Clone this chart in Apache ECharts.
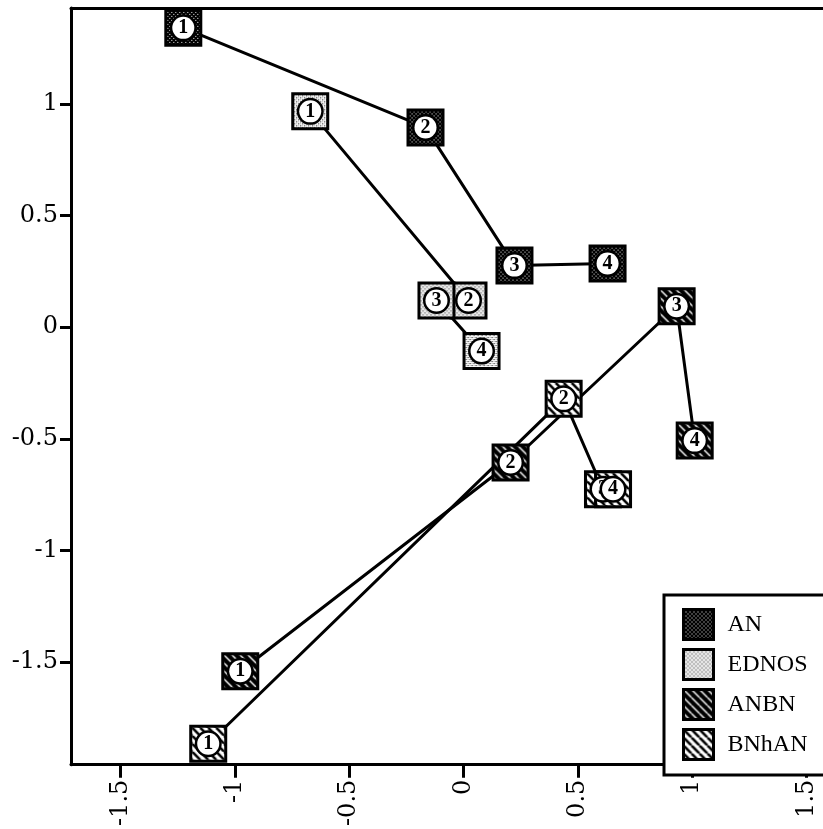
<!DOCTYPE html>
<html>
<head>
<meta charset="utf-8">
<script src="https://cdn.jsdelivr.net/npm/echarts@6/dist/echarts.min.js"></script>
<style>
html,body{margin:0;padding:0;background:#fff;}
#chart{width:823px;height:829px;}
</style>
</head>
<body>
<div id="chart"></div>
<script>
// ---- data ----
const groupNames = ['AN', 'EDNOS', 'ANBN', 'BNhAN'];
const pointLabels = ['1', '2', '3', '4'];
const anX    = [-1.225, -0.166, 0.223, 0.630];
const anY    = [ 1.341,  0.895, 0.276, 0.285];
const ednosX = [-0.670,  0.022, -0.118, 0.079];
const ednosY = [ 0.967,  0.120,  0.120, -0.107];
const anbnX  = [-0.976,  0.206,  0.932, 1.011];
const anbnY  = [-1.541, -0.606,  0.094, -0.508];
const bnhanX = [-1.116,  0.438,  0.610, 0.654];
const bnhanY = [-1.866, -0.321, -0.726, -0.726];
const xTicks = [-1.5, -1, -0.5, 0, 0.5, 1, 1.5];
const yTicks = [-1.5, -1, -0.5, 0, 0.5, 1];

// ---- patterns ----
const SYM = 35;
function tileCanvas(w, h, draw) {
  const c = document.createElement('canvas');
  c.width = w; c.height = h;
  draw(c.getContext('2d'));
  return c;
}
const tAN = tileCanvas(4, 4, (g) => {
  g.fillStyle = '#000'; g.fillRect(0, 0, 4, 4);
  g.fillStyle = '#fff'; g.fillRect(0, 0, 1, 1); g.fillRect(2, 2, 1, 1);
});
const tEDNOS = tileCanvas(4, 4, (g) => {
  g.fillStyle = '#fff'; g.fillRect(0, 0, 4, 4);
  g.fillStyle = '#000'; g.fillRect(0, 0, 1, 1); g.fillRect(2, 2, 1, 1);
  g.fillStyle = '#999'; g.fillRect(2, 0, 1, 1); g.fillRect(0, 2, 1, 1);
});
const tANBN = tileCanvas(8, 8, (g) => {
  g.fillStyle = '#000'; g.fillRect(0, 0, 8, 8);
  g.strokeStyle = '#fff'; g.lineWidth = 1.4;
  for (const x0 of [-8, 0, 8]) { g.beginPath(); g.moveTo(x0, 0); g.lineTo(x0 + 8, 8); g.stroke(); }
});
const tBNhAN = tileCanvas(8, 8, (g) => {
  g.fillStyle = '#fff'; g.fillRect(0, 0, 8, 8);
  g.strokeStyle = '#000'; g.lineWidth = 2.6;
  for (const x0 of [-8, 0, 8]) { g.beginPath(); g.moveTo(x0, 0); g.lineTo(x0 + 8, 8); g.stroke(); }
});
const tiles = [tAN, tEDNOS, tANBN, tBNhAN];
// symbols are drawn as unit paths scaled by size/2, so counter-scale the pattern
const symPattern = (c) => ({ image: c, repeat: 'repeat', scaleX: 2 / SYM, scaleY: 2 / SYM });
const flatPattern = (c) => ({ image: c, repeat: 'repeat' });

const xs = [anX, ednosX, anbnX, bnhanX];
const ys = [anY, ednosY, anbnY, bnhanY];

const FONT = '"Liberation Serif", "Times New Roman", serif';
const AXFONT = '"DejaVu Serif", serif';
const series = [];
groupNames.forEach((name, i) => {
  const pts = xs[i].map((x, k) => [x, ys[i][k]]);
  series.push({
    name: name + '_line', type: 'line', data: pts, symbol: 'none',
    lineStyle: { color: '#000', width: 3 }, z: 2, clip: false, silent: true
  });
});
groupNames.forEach((name, i) => {
  const pts = xs[i].map((x, k) => [x, ys[i][k]]);
  series.push({
    name: name, type: 'scatter', data: pts, symbol: 'rect', symbolSize: SYM,
    z: 3, clip: false,
    itemStyle: { color: symPattern(tiles[i]), borderColor: '#000', borderWidth: 3, opacity: 1 },
    label: {
      show: true, position: 'inside',
      formatter: (p) => pointLabels[p.dataIndex],
      color: '#000', fontFamily: FONT, fontWeight: 'bold', fontSize: 20,
      backgroundColor: '#fff', borderColor: '#000', borderWidth: 2.5,
      borderRadius: 13, width: 22, height: 22, lineHeight: 22,
      align: 'center', verticalAlign: 'middle', padding: 0
    }
  });
});

const chart = echarts.init(document.getElementById('chart'), null, { renderer: 'canvas' });
const X_MIN = -1.716, X_MAX = 1.572;
chart.setOption({
  animation: false,
  backgroundColor: '#fff',
  grid: { left: 71, top: 8, bottom: 60, right: 0, show: false },
  xAxis: [{
    type: 'value', min: X_MIN, max: X_MAX, position: 'bottom',
    axisLine: { show: true, onZero: false, lineStyle: { color: '#000', width: 3 } },
    axisTick: { show: true, length: 13, lineStyle: { color: '#000', width: 3 }, customValues: xTicks },
    axisLabel: { rotate: 90, margin: 15, color: '#000', fontFamily: AXFONT, fontSize: 24, customValues: xTicks },
    splitLine: { show: false }
  }, {
    type: 'value', min: X_MIN, max: X_MAX, position: 'top',
    axisLine: { show: true, onZero: false, lineStyle: { color: '#000', width: 3 } },
    axisTick: { show: false }, axisLabel: { show: false }, splitLine: { show: false }
  }],
  yAxis: {
    type: 'value', min: -1.96, max: 1.43,
    axisLine: { show: true, onZero: false, lineStyle: { color: '#000', width: 3 } },
    axisTick: { show: true, length: 11, lineStyle: { color: '#000', width: 3 }, customValues: yTicks },
    axisLabel: { margin: 13, color: '#000', fontFamily: AXFONT, fontSize: 24, customValues: yTicks },
    splitLine: { show: false }
  },
  legend: {
    data: groupNames.map((n, i) => ({ name: n, itemStyle: { color: flatPattern(tiles[i]), borderColor: '#000', borderWidth: 3 } })),
    orient: 'vertical', left: 664, top: 595,
    padding: [13, 80, 14, 18], itemWidth: 30, itemHeight: 30, itemGap: 7,
    backgroundColor: '#fff', borderColor: '#000', borderWidth: 3, borderRadius: 0,
    icon: 'rect', selectedMode: false,
    textStyle: { color: '#000', fontFamily: FONT, fontSize: 24, padding: [0, 0, 0, 9] }
  },
  series: series
});
</script>
</body>
</html>
